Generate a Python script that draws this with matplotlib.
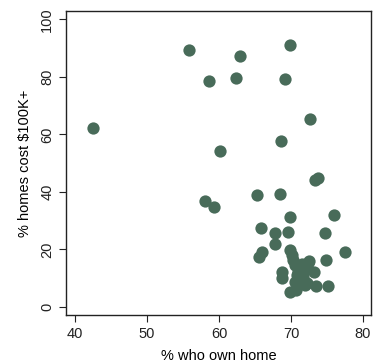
import matplotlib.pyplot as plt

# % who own home vs % homes costing $100K+
own_home = [
    42.5, 55.9, 58.6, 62.3, 62.9, 69.8, 69.2, 72.7, 68.6, 60.1,
    73.3, 73.7, 58.0, 59.3, 65.3, 68.5, 75.9, 69.8, 65.8, 67.8,
    69.6, 74.7, 67.8, 77.5, 65.9, 65.5, 69.9, 70.1, 70.3, 74.9,
    72.5, 72.3, 71.5, 70.6, 68.8, 68.8, 73.2, 71.0, 71.7, 70.6,
    72.2, 73.4, 75.1, 69.9, 70.7, 72.0, 71.3, 70.8, 72.0, 71.4,
]
cost_100k = [
    62.3, 89.2, 78.7, 79.7, 87.3, 91.2, 79.3, 65.5, 57.8, 54.3,
    44.3, 45.0, 36.9, 34.8, 38.8, 39.2, 32.0, 31.3, 27.4, 25.7,
    26.0, 25.8, 22.0, 19.1, 19.1, 17.4, 19.9, 18.2, 16.4, 16.4,
    16.1, 15.3, 15.0, 14.6, 12.0, 10.1, 12.0, 12.3, 10.5, 8.8,
    8.2, 7.3, 7.3, 5.3, 5.9, 7.5, 13.3, 11.0, 12.8, 9.5,
]

plt.rcParams["font.family"] = ["Liberation Sans", "DejaVu Sans"]

fig = plt.figure(figsize=(3.77, 3.63), dpi=100)
ax = fig.add_axes([0.175, 0.132, 0.809, 0.838])

ax.scatter(own_home, cost_100k, s=78, color="#486b59", linewidths=0, zorder=3)

ax.set_xlim(38.75, 81.1)
ax.set_ylim(-2.8, 102.9)
ax.set_xticks([40, 50, 60, 70, 80])
ax.set_yticks([0, 20, 40, 60, 80, 100])
ax.tick_params(direction="out", length=5, width=0.8, labelsize=10.5, colors="#222222")
for lab in ax.get_yticklabels():
    lab.set_rotation(90)
    lab.set_va("center")
for sp in ax.spines.values():
    sp.set_linewidth(1.0)
    sp.set_color("#222222")

ax.set_xlabel("% who own home", fontsize=10.5, labelpad=6)
ax.set_ylabel("% homes cost $100K+", fontsize=10.5, labelpad=6)

plt.savefig("out.png", dpi=100)
